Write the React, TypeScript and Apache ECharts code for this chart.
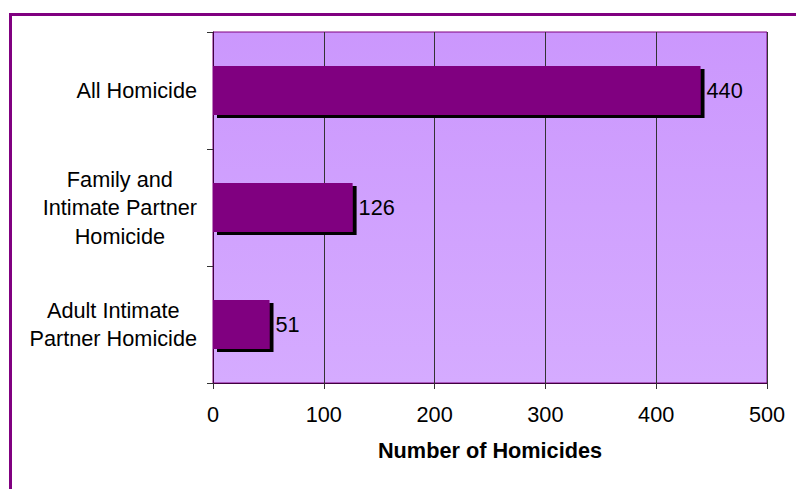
import React, { useEffect, useRef } from "react";
import * as echarts from "echarts";

// Homicide counts by category
const categories: string[] = [
  "All Homicide",
  "Family and\nIntimate Partner\nHomicide",
  "Adult Intimate\nPartner Homicide",
];
const homicides: number[] = [440, 126, 51];
const xTicks: number[] = [0, 100, 200, 300, 400, 500];
const xAxisTitle = "Number of Homicides";

const FONT = "'Liberation Sans', Arial, Helvetica, sans-serif";
const FONT_SIZE = 21.7;
const PURPLE = "#800080";

export default function App() {
  const ref = useRef<HTMLDivElement>(null);

  useEffect(() => {
    if (!ref.current) return;
    const chart = echarts.init(ref.current, undefined, { renderer: "svg" });

    const option: echarts.EChartsOption = {
      animation: false,
      backgroundColor: "#ffffff",
      textStyle: { fontFamily: FONT },
      graphic: [
        {
          type: "rect",
          shape: { x: 10.5, y: 14.5, width: 900, height: 600 },
          style: { fill: "none", stroke: PURPLE, lineWidth: 3 },
          silent: true,
        },
      ],
      grid: {
        left: 213,
        top: 32,
        right: 29,
        bottom: 106,
        show: true,
        borderColor: PURPLE,
        borderWidth: 1,
        backgroundColor: new echarts.graphic.LinearGradient(0, 0, 0, 1, [
          { offset: 0, color: "#CB97FD" },
          { offset: 1, color: "#D5ABFF" },
        ]) as any,
      },
      xAxis: {
        type: "value",
        min: xTicks[0],
        max: xTicks[xTicks.length - 1],
        interval: xTicks[1] - xTicks[0],
        name: xAxisTitle,
        nameLocation: "middle",
        nameGap: 56,
        nameTextStyle: {
          fontFamily: FONT,
          fontSize: FONT_SIZE,
          fontWeight: "bold",
          color: "#000",
        },
        axisLine: { show: true, lineStyle: { color: "#400040", width: 1 } },
        axisTick: {
          show: true,
          length: 6,
          lineStyle: { color: "#333" },
        },
        axisLabel: {
          fontFamily: FONT,
          fontSize: FONT_SIZE,
          color: "#000",
          margin: 20,
        },
        splitLine: { show: true, lineStyle: { color: "#333", width: 1 } },
      },
      yAxis: {
        type: "category",
        inverse: true,
        data: categories,
        axisLine: { show: true, lineStyle: { color: "#400040", width: 1 } },
        axisTick: {
          show: true,
          length: 6,
          lineStyle: { color: "#333" },
        },
        axisLabel: {
          fontFamily: FONT,
          fontSize: FONT_SIZE,
          color: "#000",
          margin: 16,
          align: "right",
          formatter: (v: string) =>
            v
              .split("\n")
              .map((line) => `{c|${line}}`)
              .join("\n"),
          rich: {
            c: {
              fontFamily: FONT,
              fontSize: FONT_SIZE,
              color: "#000",
              align: "center",
              lineHeight: 28.5,
            },
          },
        },
        splitLine: { show: false },
      },
      series: [
        {
          type: "bar",
          data: homicides,
          barCategoryGap: "58%",
          itemStyle: {
            color: PURPLE,
            shadowColor: "#000",
            shadowBlur: 0,
            shadowOffsetX: 4,
            shadowOffsetY: 3,
          },
          label: {
            show: true,
            position: "right",
            distance: 6,
            fontFamily: FONT,
            fontSize: FONT_SIZE,
            color: "#000",
          },
        },
      ],
    };

    chart.setOption(option);
    return () => chart.dispose();
  }, []);

  return (
    <div
      ref={ref}
      style={{ position: "fixed", left: 0, top: 0, width: 796, height: 489 }}
    />
  );
}
